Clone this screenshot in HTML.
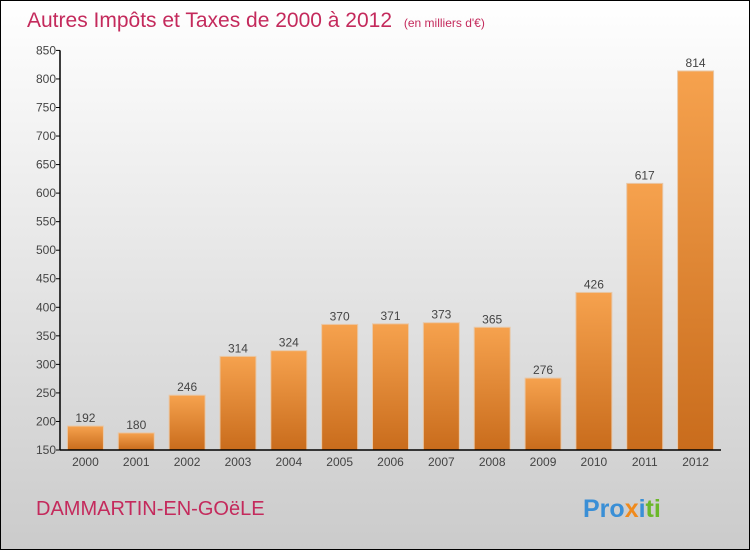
<!DOCTYPE html>
<html><head><meta charset="utf-8"><style>
body{margin:0;width:750px;height:550px;overflow:hidden}
svg{display:block}
text{font-family:"Liberation Sans",sans-serif}
</style></head><body>
<svg id="c" width="750" height="550">
<defs>
<linearGradient id="bg" x1="0" y1="0" x2="0" y2="1"><stop offset="0" stop-color="#ffffff"/><stop offset="1" stop-color="#cbcbcb"/></linearGradient>
<linearGradient id="bar" x1="0" y1="0" x2="0" y2="1"><stop offset="0" stop-color="#f6a24e"/><stop offset="1" stop-color="#c96c1c"/></linearGradient>
</defs>
<rect x="0.5" y="0.5" width="749" height="549" fill="url(#bg)" stroke="#000"/>
<text x="27" y="27" font-size="21" fill="#c42a5c">Autres Impôts et Taxes de 2000 à 2012 <tspan font-size="12" dx="6">(en milliers d'€)</tspan></text>
<text x="36" y="515" font-size="20" fill="#c42a5c">DAMMARTIN-EN-GOëLE</text>
<text x="583" y="517" font-size="25" font-weight="bold"><tspan fill="#3a8fd6">Pro</tspan><tspan fill="#f08a1c">x</tspan><tspan fill="#3a8fd6">i</tspan><tspan fill="#6bb82a">ti</tspan></text>
<g id="plot"></g>
</svg>
<script>
const categories=["2000","2001","2002","2003","2004","2005","2006","2007","2008","2009","2010","2011","2012"];
const values=[192,180,246,314,324,370,371,373,365,276,426,617,814];
const ticks=[150,200,250,300,350,400,450,500,550,600,650,700,750,800,850];
const NS="http://www.w3.org/2000/svg";
const g=document.getElementById('plot');
const x0=60,x1=721,yTop=50.4,yBot=450,vMin=150,vMax=850;
const band=(x1-x0)/categories.length;
const y=v=>yBot-(v-vMin)/(vMax-vMin)*(yBot-yTop);
const xc=i=>x0+band*(i+0.5);
function mk(t,a){const e=document.createElementNS(NS,t);for(const k in a)e.setAttribute(k,a[k]);g.appendChild(e);return e;}
ticks.forEach(t=>{
 const l=mk('line',{x1:x0-4,x2:x0,y1:y(t),y2:y(t),stroke:'#000'});
 
 
 const tx=mk('text',{x:x0-4,y:y(t)+4,'text-anchor':'end','font-size':12,fill:'#444'});
 tx.textContent=t;
 
 
});
values.forEach((v,i)=>{
 const w=36;
 const r=mk('rect',{x:xc(i)-w/2,y:y(v),width:w,height:yBot-y(v),fill:'url(#bar)',stroke:'#e8c8a8','stroke-width':1});
 
 
 const vl=mk('text',{x:xc(i),y:y(v)-4,'text-anchor':'middle','font-size':12,fill:'#444'});
 vl.textContent=v;
 
 
 const cl=mk('text',{x:xc(i),y:466,'text-anchor':'middle','font-size':12,fill:'#444'});
 cl.textContent=categories[i];
 
 
});
const ya=mk('line',{x1:x0,x2:x0,y1:yTop,y2:yBot,stroke:'#000','stroke-width':1.5});


const xa=mk('line',{x1:x0,x2:x1,y1:yBot,y2:yBot,stroke:'#000','stroke-width':1.5});


</script>
</body></html>
